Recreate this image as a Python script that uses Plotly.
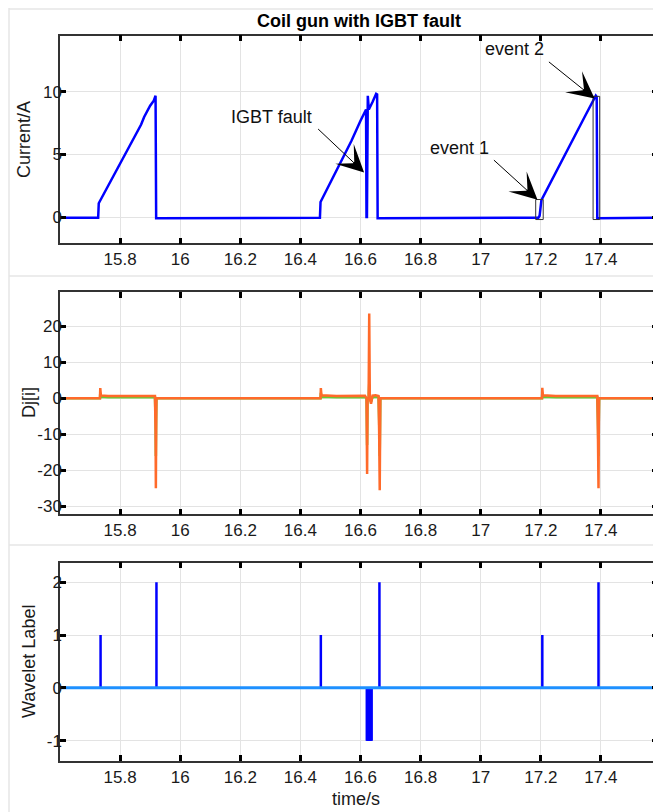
import plotly.graph_objects as go

# ---------------- data ----------------
x_tick_vals = [15.8, 16.0, 16.2, 16.4, 16.6, 16.8, 17.0, 17.2, 17.4]
x_tick_text = ["15.8", "16", "16.2", "16.4", "16.6", "16.8", "17", "17.2", "17.4"]

# Panel 1: coil current (A)
current_t = [15.600, 15.727, 15.729, 15.760, 15.800, 15.850, 15.870, 15.880, 15.900, 15.912, 15.918,
             15.920, 15.922, 16.465, 16.467, 16.520, 16.570, 16.600, 16.6166, 16.6185, 16.6199,
             16.6215, 16.6243, 16.6277, 16.640, 16.652, 16.6553, 16.657, 17.192, 17.196, 17.202,
             17.250, 17.300, 17.350, 17.383, 17.386, 17.388, 17.590]
current_v = [-0.05, -0.05, 1.1, 2.5, 4.3, 6.5, 7.4, 8.0, 8.9, 9.3, 9.7,
             -0.1, -0.1, -0.05, 1.2, 3.7, 6.1, 7.7, 8.5, 8.6, 0.0,
             0.0, 9.7, 8.6, 9.2, 9.85, 9.8, -0.1, -0.05, 0.1, 1.35,
             3.6, 5.9, 8.2, 9.7, 9.6, -0.1, -0.05]
current_y_ticks = [0, 5, 10]
current_y_text = ["0", "5", "10"]

# Event boxes [t0, t1, i0, i1]
event1_box = [17.183, 17.208, -0.2, 1.4]
event2_box = [17.374, 17.396, -0.2, 9.65]

# Annotations: label, text position, arrow tail, arrow head
ann_labels = ["IGBT fault", "event 1", "event 2"]
ann_text_t = [16.305, 16.928, 17.112]
ann_text_v = [8.0, 5.55, 13.4]
ann_tail_t = [16.454, 17.039, 17.222]
ann_tail_v = [7.15, 4.66, 12.5]
ann_head_t = [16.612, 17.189, 17.379]
ann_head_v = [3.57, 1.38, 9.47]

# Panel 2: Dj[i] (two detail series)
d_t = [15.600, 15.733, 15.734, 15.736, 15.760, 15.800, 15.850, 15.900, 15.916, 15.918, 15.919,
       15.920, 15.921, 16.467, 16.468, 16.470, 16.520, 16.580, 16.615, 16.620, 16.622, 16.6235,
       16.627, 16.629, 16.631, 16.635, 16.640, 16.650, 16.660, 16.662, 16.664, 16.666,
       17.204, 17.205, 17.207, 17.250, 17.300, 17.350, 17.388, 17.390, 17.392, 17.393, 17.394, 17.590]
d_orange = [0.0, 0.0, 2.8, 0.8, 0.6, 0.6, 0.6, 0.7, 0.6, -9.0, -25.0,
            -9.0, 0.0, 0.0, 2.8, 0.8, 0.6, 0.6, 0.7, 0.0, -21.0, 0.0,
            0.0, 23.5, 0.0, -1.5, 0.7, 0.8, 0.6, -9.0, -25.5, 0.0,
            0.0, 2.9, 0.8, 0.6, 0.6, 0.7, 0.6, -9.0, -25.0, -9.0, 0.0, 0.0]
d_green = [0.0, 0.0, 1.5, 0.4, 0.3, 0.3, 0.3, 0.4, 0.3, -6.0, -16.0,
           -6.0, 0.0, 0.0, 1.5, 0.4, 0.3, 0.3, 0.3, 0.0, -13.0, 0.0,
           0.0, 4.0, 0.0, -1.0, 0.3, 0.4, 0.3, -6.0, -16.0, 0.0,
           0.0, 1.5, 0.4, 0.3, 0.3, 0.3, 0.3, -6.0, -16.0, -6.0, 0.0, 0.0]
d_y_ticks = [-30, -20, -10, 0, 10, 20]
d_y_text = ["-30", "-20", "-10", "0", "10", "20"]

# Panel 3: wavelet labels
label_t = [15.735, 15.921, 16.468, 16.621, 16.623, 16.625, 16.627, 16.629, 16.631, 16.633,
           16.635, 16.637, 16.663, 17.205, 17.392]
label_v = [1, 2, 1, -1, -1, -1, -1, -1, -1, -1, -1, -1, 2, 1, 2]
baseline_t = [15.60, 17.59]
baseline_v = [0, 0]
w_y_ticks = [-1, 0, 1, 2]
w_y_text = ["-1", "0", "1", "2"]

# Axis titles
y_titles = ["Current/A", "Dj[i]", "Wavelet Label"]
x_title = "time/s"
plot_title = "Coil gun with IGBT fault"

# ---------------- figure ----------------
# The page body has an 8px default margin, so the figure starts at (8, 8).
OFF = 8
W, H = 661 - OFF, 812 - OFF
FONT = "Liberation Sans, Arial, sans-serif"

def px_y(py):
    return 1 - (py - OFF) / H

def px_x(px):
    return (px - OFF) / W

fig = go.Figure()

fig.add_trace(go.Scatter(x=current_t, y=current_v, mode="lines",
                         line=dict(color="#0000FF", width=2.5), xaxis="x", yaxis="y",
                         showlegend=False, hoverinfo="skip"))
fig.add_trace(go.Scatter(x=d_t, y=d_green, mode="lines",
                         line=dict(color="#66CC33", width=2.5), xaxis="x2", yaxis="y2",
                         showlegend=False, hoverinfo="skip"))
fig.add_trace(go.Scatter(x=d_t, y=d_orange, mode="lines",
                         line=dict(color="#FF6A2A", width=2.5), xaxis="x2", yaxis="y2",
                         showlegend=False, hoverinfo="skip"))

stem_x, stem_y = [], []
for t, v in zip(label_t, label_v):
    stem_x += [t, t, None]
    stem_y += [0, v, None]
fig.add_trace(go.Scatter(x=stem_x, y=stem_y, mode="lines",
                         line=dict(color="#0000FF", width=2.5), xaxis="x3", yaxis="y3",
                         showlegend=False, hoverinfo="skip"))
fig.add_trace(go.Scatter(x=baseline_t, y=baseline_v, mode="lines",
                         line=dict(color="#1E90FF", width=3), xaxis="x3", yaxis="y3",
                         showlegend=False, hoverinfo="skip"))

xdom = [px_x(60), px_x(658)]
keys = ["", "2", "3"]
doms = {
    "": [px_y(243.3), px_y(35.7)],
    "2": [px_y(514.3), px_y(292.3)],
    "3": [px_y(760.7), px_y(562.7)],
}
yranges = {"": [-2.1, 14.5], "2": [-32.2, 29.4], "3": [-1.38, 2.37]}
yticks = {"": (current_y_ticks, current_y_text), "2": (d_y_ticks, d_y_text), "3": (w_y_ticks, w_y_text)}
ytitle_px = {"": (24, 140), "2": (29, 403), "3": (29, 662)}

common_axis = dict(
    showline=True, linecolor="#333333", linewidth=1.5, mirror="ticks",
    ticks="inside", ticklen=6, tickwidth=2.5, tickcolor="#000000",
    showgrid=True, gridcolor="#E3E3E3", gridwidth=1, zeroline=False,
    automargin=False,
    tickfont=dict(family=FONT, size=17, color="#1a1a1a"),
)

layout = dict(
    width=W, height=H,
    margin=dict(l=0, r=0, t=0, b=0),
    paper_bgcolor="white", plot_bgcolor="white",
    showlegend=False,
    font=dict(family=FONT, color="#1a1a1a"),
)
for k in keys:
    layout["xaxis" + k] = dict(
        domain=xdom, anchor="y" + k, range=[15.60, 17.59],
        tickvals=x_tick_vals, ticktext=x_tick_text, **common_axis)
    layout["yaxis" + k] = dict(
        domain=doms[k], anchor="x" + k, range=yranges[k],
        tickvals=yticks[k][0], ticktext=yticks[k][1], ticklabelstandoff=-7, **common_axis)

fig.update_layout(**layout)

for k, txt in zip(keys, y_titles):
    px, py = ytitle_px[k]
    fig.add_annotation(xref="paper", yref="paper", x=px_x(px), y=px_y(py), text=txt,
                       textangle=-90, showarrow=False, xanchor="center", yanchor="middle",
                       font=dict(family=FONT, size=18, color="#1a1a1a"))
fig.add_annotation(xref="paper", yref="paper", x=px_x(356), y=px_y(799), text=x_title,
                   showarrow=False, xanchor="center", yanchor="middle",
                   font=dict(family=FONT, size=18, color="#1a1a1a"))

fig.add_annotation(xref="paper", yref="paper", x=px_x(359), y=px_y(20.7),
                   text="<b>" + plot_title + "</b>", showarrow=False,
                   font=dict(family=FONT, size=18, color="#000000"),
                   xanchor="center", yanchor="middle")

for lab, tx, ty, ax_, ay_, hx, hy in zip(ann_labels, ann_text_t, ann_text_v,
                                         ann_tail_t, ann_tail_v, ann_head_t, ann_head_v):
    fig.add_annotation(xref="x", yref="y", x=tx, y=ty, text=lab, showarrow=False,
                       font=dict(family=FONT, size=18, color="#111111"),
                       xanchor="center", yanchor="middle")
    fig.add_annotation(xref="x", yref="y", x=hx, y=hy, axref="x", ayref="y", ax=ax_, ay=ay_,
                       text="", showarrow=True, arrowhead=3, arrowsize=4.5, arrowwidth=1,
                       arrowcolor="#000000", standoff=0, startstandoff=0)

for b in [event1_box, event2_box]:
    fig.add_shape(type="rect", xref="x", yref="y", x0=b[0], x1=b[1], y0=b[2], y1=b[3],
                  line=dict(color="#333333", width=1), fillcolor="rgba(0,0,0,0)")

# panel separators (light gray frames)
sep = dict(color="#E6E6E6", width=1.5)
fig.add_shape(type="line", xref="paper", yref="paper", x0=px_x(9), x1=px_x(9),
              y0=0, y1=1, line=sep)
for py in [9, 276, 545]:
    fig.add_shape(type="line", xref="paper", yref="paper", x0=px_x(9), x1=1,
                  y0=px_y(py), y1=px_y(py), line=sep)

fig.write_html("out.html")
